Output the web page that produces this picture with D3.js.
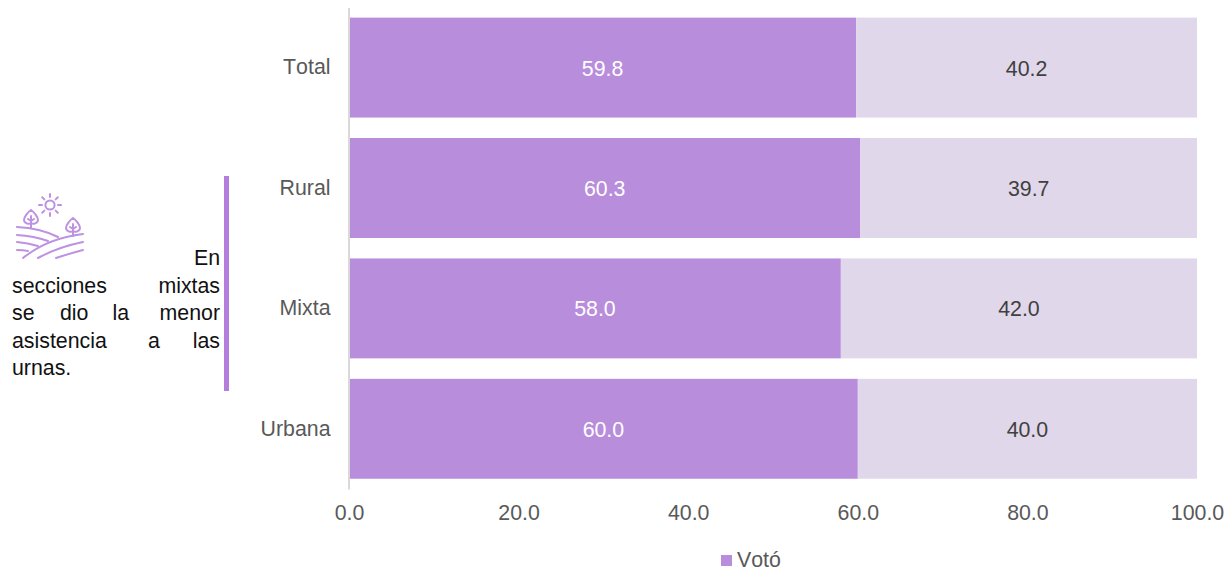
<!DOCTYPE html>
<html><head><meta charset="utf-8">
<script src="https://cdn.jsdelivr.net/npm/d3@7"></script>
<style>html,body{margin:0;padding:0;background:#fff}svg{display:block}text{font-family:"Liberation Sans",Arial,sans-serif;font-kerning:none}</style>
</head><body><svg id="c" width="1230" height="571"></svg>
<script>
const categories = ["Total","Rural","Mixta","Urbana"];
const voto = [59.8,60.3,58.0,60.0];
const noVoto = [40.2,39.7,42.0,40.0];
const xTicks = [0,20,40,60,80,100];
const seriesName = "Votó";
const noteLines = [
  {y:265,words:[["En",220,"end"]]},
  {y:292.5,words:[["secciones",12,"start"],["mixtas",220,"end"]]},
  {y:320,words:[["se",12,"start"],["dio",60,"start"],["la",112.5,"start"],["menor",220,"end"]]},
  {y:347.5,words:[["asistencia",12,"start"],["a",148,"start"],["las",220,"end"]]},
  {y:375,words:[["urnas.",12,"start"]]}
];
const PURPLE="#b88ddc", LIGHT="#e0d7ea", GREY="#595959", FS=21.33;
const svg=d3.select("#c");
const x=d3.scaleLinear().domain([0,100]).range([349,1197]);
const y=d3.scaleBand().domain(categories).range([7.4,489]).paddingInner(0.17).paddingOuter(0.085);
const rows=categories.map((c,i)=>({c,a:voto[i],b:noVoto[i]}));

svg.selectAll("rect.a").data(rows).join("rect").attr("class","a")
  .attr("x",x(0)).attr("y",d=>y(d.c)).attr("width",d=>x(d.a)-x(0)).attr("height",y.bandwidth()).attr("fill",PURPLE);
svg.selectAll("rect.b").data(rows).join("rect").attr("class","b")
  .attr("x",d=>x(d.a)).attr("y",d=>y(d.c)).attr("width",d=>x(d.a+d.b)-x(d.a)).attr("height",y.bandwidth()).attr("fill",LIGHT);

svg.selectAll("text.la").data(rows).join("text").attr("class","la")
  .attr("x",d=>x(d.a/2)).attr("y",d=>y(d.c)+y.bandwidth()/2+8).attr("text-anchor","middle")
  .attr("font-size",FS).attr("fill","#fff").text(d=>d.a.toFixed(1));
svg.selectAll("text.lb").data(rows).join("text").attr("class","lb")
  .attr("x",d=>x(d.a+d.b/2)).attr("y",d=>y(d.c)+y.bandwidth()/2+8).attr("text-anchor","middle")
  .attr("font-size",FS).attr("fill","#404040").text(d=>d.b.toFixed(1));

// Axes
const gx=svg.append("g").attr("transform","translate(0,489)")
  .call(d3.axisBottom(x).tickValues(xTicks).tickSize(0).tickPadding(16).tickFormat(d=>d.toFixed(1)));
gx.select(".domain").remove();
gx.selectAll("text").attr("font-size",FS).attr("fill",GREY).style("font-family",'"Liberation Sans"');
const gy=svg.append("g").attr("transform","translate(348.5,0)")
  .call(d3.axisLeft(y).tickSize(0).tickPadding(18));
gy.select(".domain").attr("stroke","#d9d9d9").attr("stroke-width",2);
gy.selectAll("text").attr("font-size",FS).attr("fill",GREY).attr("dy","0.32em").style("font-family",'"Liberation Sans"');

// Legend
svg.append("rect").attr("x",721).attr("y",555).attr("width",11).attr("height",11).attr("fill",PURPLE);
svg.append("text").attr("x",737).attr("y",567).attr("font-size",FS).attr("fill",GREY).text(seriesName);

// Side note
svg.append("rect").attr("x",224).attr("y",176).attr("width",5).attr("height",215).attr("fill","#b57edc");
noteLines.forEach(l=>l.words.forEach(w=>{
  svg.append("text").attr("x",w[1]).attr("y",l.y).attr("text-anchor",w[2]).attr("font-size",FS).attr("fill","#111").text(w[0]);
}));

// Field icon
const ic=svg.append("g").attr("fill","none").attr("stroke","#bd92e2").attr("stroke-width",2).attr("stroke-linecap","round");
ic.append("circle").attr("cx",50).attr("cy",205).attr("r",4.6);
d3.range(8).forEach(i=>{
  const t=i*Math.PI/4;
  ic.append("line").attr("x1",50+8*Math.cos(t)).attr("y1",205+8*Math.sin(t)).attr("x2",50+11*Math.cos(t)).attr("y2",205+11*Math.sin(t));
});
[[31,219],[73,227]].forEach(([cx,cy])=>{
  ic.append("path").attr("d",`M${cx} ${cy-9}C${cx+3} ${cy-7} ${cx+7} ${cy-2} ${cx+7} ${cy+1}C${cx+7} ${cy+4} ${cx+2} ${cy+6} ${cx} ${cy+4}C${cx-2} ${cy+6} ${cx-7} ${cy+4} ${cx-7} ${cy+1}C${cx-7} ${cy-2} ${cx-3} ${cy-7} ${cx} ${cy-9}Z`);
  ic.append("path").attr("d",`M${cx} ${cy-3}V${cy+9}M${cx} ${cy+2}l-3 -2M${cx} ${cy+2}l3 -2`);
});
const hills=["M17 227Q40 228 58 237","M17 235Q34 236 48 241","M17 242Q28 243 38 246","M17 250Q23 250 28 251",
 "M23 258Q48 238 83 234","M38 258Q58 247 83 242","M56 258Q68 254 83 250"];
ic.selectAll("path.h").data(hills).join("path").attr("class","h").attr("d",d=>d);
</script></body></html>
